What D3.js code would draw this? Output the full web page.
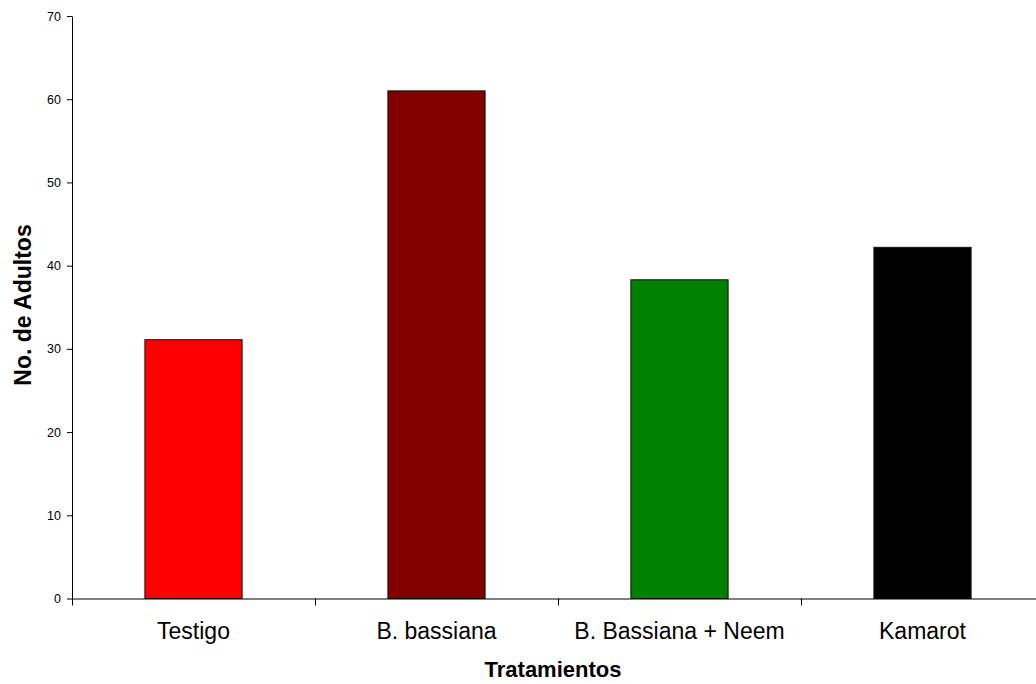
<!DOCTYPE html>
<html>
<head>
<meta charset="utf-8">
<script src="https://cdn.jsdelivr.net/npm/d3@7"></script>
<style>
  html, body { margin: 0; padding: 0; background: #fff; }
  svg { display: block; font-family: "Liberation Sans", Arial, sans-serif; }
</style>
</head>
<body>
<svg id="chart" width="1036" height="684"></svg>
<script>
// Número de adultos por tratamiento
const categories = ["Testigo", "B. bassiana", "B. Bassiana + Neem", "Kamarot"];
const adults = [31.1, 61.0, 38.3, 42.2];
const barColors = ["#ff0000", "#800000", "#008000", "#000000"];
const yTicks = [0, 10, 20, 30, 40, 50, 60, 70];
const xTitle = "Tratamientos";
const yTitle = "No. de Adultos";

const W = 1036, H = 684;
const plot = { left: 72, right: 1044, top: 16, bottom: 598.5 };

const svg = d3.select("#chart");

const x = d3.scaleBand()
  .domain(categories)
  .range([plot.left, plot.right])
  .padding(0);

const y = d3.scaleLinear()
  .domain([0, 70])
  .range([plot.bottom, plot.top]);

const barW = x.bandwidth() * 0.4;

// Bars
svg.append("g")
  .selectAll("rect")
  .data(categories)
  .join("rect")
  .attr("x", (d) => x(d) + (x.bandwidth() - barW) / 2)
  .attr("y", (d, i) => y(adults[i]))
  .attr("width", barW)
  .attr("height", (d, i) => y(0) - y(adults[i]))
  .attr("fill", (d, i) => barColors[i])
  .attr("stroke", "#111")
  .attr("stroke-width", 1);

// Y axis
const yAxis = svg.append("g")
  .attr("transform", `translate(${plot.left},0)`)
  .call(d3.axisLeft(y).tickValues(yTicks).tickSize(5).tickPadding(6).tickSizeOuter(0));
yAxis.selectAll("text").attr("font-size", 12.5).attr("fill", "#000").attr("font-family", "Liberation Sans, Arial, sans-serif");
yAxis.selectAll("line, path").attr("stroke", "#000");

// X axis: category labels centred in each band
const xAxis = svg.append("g")
  .attr("transform", `translate(0,${y(0)})`)
  .call(d3.axisBottom(x).tickSize(0).tickPadding(24).tickSizeOuter(0));
xAxis.select("path.domain")
  .attr("d", `M${plot.left},0.5H${W}`)
  .attr("stroke", "#000");
xAxis.selectAll("text").attr("font-size", 23).attr("fill", "#000").attr("font-family", "Liberation Sans, Arial, sans-serif");

// Separator ticks at band boundaries
xAxis.append("g")
  .selectAll("line")
  .data(categories)
  .join("line")
  .attr("x1", (d) => Math.round(x(d)) + 0.5)
  .attr("x2", (d) => Math.round(x(d)) + 0.5)
  .attr("y1", 0)
  .attr("y2", 7)
  .attr("stroke", "#000");

// Axis titles
svg.append("text")
  .attr("x", 553)
  .attr("y", 677)
  .attr("text-anchor", "middle")
  .attr("font-size", 22)
  .attr("font-weight", "bold")
  .text(xTitle);

svg.append("text")
  .attr("transform", `translate(31,305) rotate(-90)`)
  .attr("text-anchor", "middle")
  .attr("font-size", 23)
  .attr("font-weight", "bold")
  .text(yTitle);
</script>
</body>
</html>
